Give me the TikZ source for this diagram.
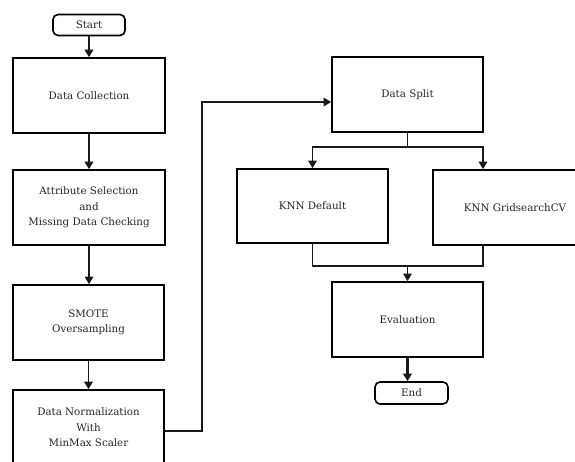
\documentclass[tikz,border=0pt]{standalone}
\usepackage{fontspec}
\setmainfont{DejaVu Serif}
\usetikzlibrary{arrows.meta,calc}
\begin{document}
\begin{tikzpicture}[x=1pt,y=-1pt,
  box/.style={draw=black,line width=1.6pt,rectangle,inner sep=0pt,align=center,
    font=\fontsize{10.3}{15.5}\selectfont,text=black!85},
  term/.style={box,rounded corners=5pt},
  link/.style={line width=1.5pt,draw=black!90},
  arr/.style={link,-{Triangle[width=8.5pt,length=7.5pt]}},
  thick arr/.style={arr,line width=2.2pt}]
\useasboundingbox (0,0) rectangle (575,461);
\clip (0,0) rectangle (575,461);
\node[term,minimum width=72pt,minimum height=21pt] (start) at (89,25) {Start};
\node[box,minimum width=152pt,minimum height=75pt] (dc) at (89,95.5) {Data Collection};
\node[box,minimum width=152pt,minimum height=75pt] (attr) at (89,207.5) {Attribute Selection\\and\\Missing Data Checking};
\node[box,minimum width=151pt,minimum height=75pt] (smote) at (88.5,322.5) {SMOTE\\Oversampling};
\node[box,minimum width=151pt,minimum height=75pt] (norm) at (88.5,427.5) {Data Normalization\\With\\MinMax Scaler};
\node[box,minimum width=151pt,minimum height=75pt] (split) at (407.5,94.5) {Data Split};
\node[box,minimum width=151pt,minimum height=74pt] (knnd) at (312.5,206) {KNN Default};
\node[box,minimum width=164pt,minimum height=75pt] (knng) at (515,207.5) {KNN GridsearchCV};
\node[box,minimum width=151pt,minimum height=75pt] (eval) at (407.5,319.5) {Evaluation};
\node[term,minimum width=73pt,minimum height=22pt] (end) at (411.5,393) {End};
\coordinate (b2) at (202,102);
\coordinate (sj) at (407.5,147);
\coordinate (gx) at (483,0);
\coordinate (ej) at (407.5,266);
\draw[thick arr] (start.south) -- (start.south |- dc.north);
\draw[thick arr] (dc.south) -- (dc.south |- attr.north);
\draw[arr] (attr.south) -- (attr.south |- smote.north);
\draw[arr] (smote.south) -- (smote.south |- norm.north);
\draw[arr] ([yshift=-3.5pt]norm.east) -| (b2) -- (split.west |- b2);
\draw[link] (split.south) -- (sj);
\draw[arr] (sj) -| (knnd.north);
\draw[arr] (sj) -| (gx |- knng.north);
\draw[link] (knnd.south) |- (ej) -| (gx |- knng.south);
\draw[arr] (ej) -- (eval.north);
\draw[thick arr] (eval.south) -- (eval.south |- end.north);
\end{tikzpicture}
\end{document}
